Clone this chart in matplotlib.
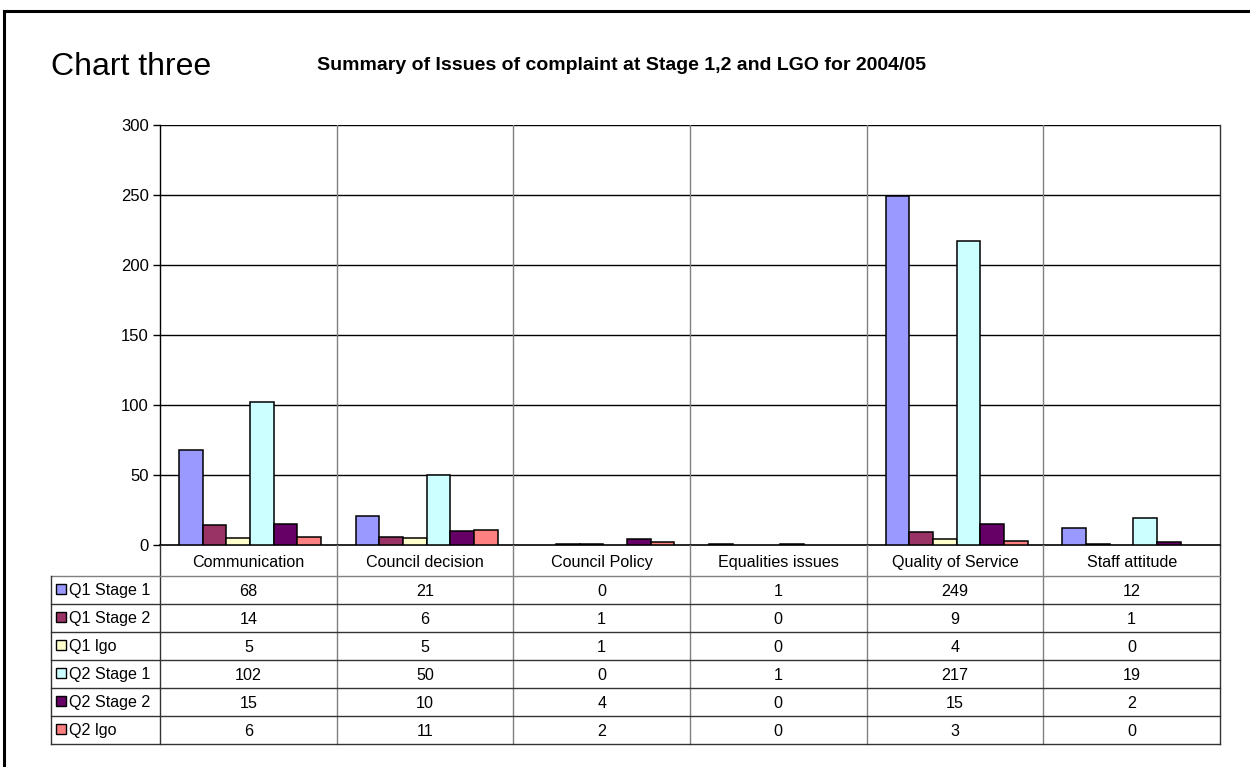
import matplotlib
matplotlib.use("Agg")
import matplotlib.pyplot as plt
from matplotlib.patches import Rectangle
from matplotlib.lines import Line2D
import numpy as np

plt.rcParams['font.family'] = ['Liberation Sans', 'DejaVu Sans']

categories = ["Communication", "Council decision", "Council Policy",
              "Equalities issues", "Quality of Service", "Staff attitude"]
series_names = ["Q1 Stage 1", "Q1 Stage 2", "Q1 lgo", "Q2 Stage 1", "Q2 Stage 2", "Q2 lgo"]
q1_stage1 = [68, 21, 0, 1, 249, 12]
q1_stage2 = [14, 6, 1, 0, 9, 1]
q1_lgo = [5, 5, 1, 0, 4, 0]
q2_stage1 = [102, 50, 0, 1, 217, 19]
q2_stage2 = [15, 10, 4, 0, 15, 2]
q2_lgo = [6, 11, 2, 0, 3, 0]
series_values = [q1_stage1, q1_stage2, q1_lgo, q2_stage1, q2_stage2, q2_lgo]
colors = ["#9999FF", "#993366", "#FFFFCC", "#CCFFFF", "#660066", "#FF8080"]
y_ticks = [0, 50, 100, 150, 200, 250, 300]

W, H = 1250, 767
fig = plt.figure(figsize=(W / 100, H / 100), dpi=100)

def fx(x):
    return x / W

def fy(y):
    return 1 - y / H

# outer border (top and left)
fig.add_artist(Line2D([fx(4), fx(4)], [fy(11), 0], color="black", lw=2.2))
fig.add_artist(Line2D([fx(4), 1], [fy(11), fy(11)], color="black", lw=2.2))

fig.text(fx(51), fy(67), "Chart three", fontsize=23, va="center", ha="left")
fig.text(fx(317), fy(65), "Summary of Issues of complaint at Stage 1,2 and LGO for 2004/05",
         fontsize=14, fontweight="bold", va="center", ha="left")

L, R, T, B = 160, 1220, 125, 545
ax = fig.add_axes([fx(L), fy(B), (R - L) / W, (B - T) / H])
n = len(categories)
ax.set_xlim(0, n)
ax.set_ylim(0, 300)
ax.set_yticks(y_ticks)
ax.tick_params(axis="y", direction="out", length=5, width=1, labelsize=12, pad=3, colors="black")
ax.set_xticks([])
for y in y_ticks[1:]:
    ax.axhline(y, color="black", lw=1, zorder=0)
for s in ["top", "right"]:
    ax.spines[s].set_visible(False)
ax.spines["left"].set_linewidth(1)
ax.spines["bottom"].set_linewidth(1.2)

bw = 0.134
xc = np.arange(n) + 0.5
for i, (vals, c) in enumerate(zip(series_values, colors)):
    offs = (i - 2.5) * bw + 0.01
    v = np.array(vals, dtype=float)
    ax.bar(xc + offs, v, width=bw, color=c, edgecolor="black",
           linewidth=[1.1 if a > 0 else 0 for a in v], zorder=3)

# data table axes
TB = 744
tab = fig.add_axes([fx(L), fy(TB), (R - L) / W, (TB - B) / H])
tab.set_xlim(0, n)
tab.set_ylim(TB, B)
tab.axis("off")

cw = (R - L) / n

def tx(px):
    return (px - L) / cw

grey = "#808080"
for k in range(1, n):
    ax.axvline(k, color=grey, lw=1, zorder=1)
for k in range(0, n + 1):
    tab.plot([k, k], [B, TB], color="#333333" if k in (0, n) else grey, lw=1, clip_on=False)
ax.plot([n, n], [0, 300], color="#333333", lw=1, clip_on=False)

row_h = 28
row0 = 576
for r in range(len(series_names) + 1):
    y = row0 + r * row_h
    tab.plot([tx(51), n], [y, y], color="#333333" if r > 0 else grey, lw=1, clip_on=False)
tab.plot([tx(51), tx(51)], [row0, TB], color="#333333", lw=1, clip_on=False)

fs = 11.6
for k, cat in enumerate(categories):
    tab.text(k + 0.5, (B + row0) / 2 + 2, cat, ha="center", va="center", fontsize=fs)

for r, (name, vals, c) in enumerate(zip(series_names, series_values, colors)):
    yc = row0 + r * row_h + row_h / 2 + 1
    tab.add_patch(Rectangle((tx(56), yc - 7), tx(66) - tx(56), 10, facecolor=c,
                            edgecolor="black", lw=1, clip_on=False))
    tab.text(tx(69), yc, name, ha="left", va="center", fontsize=fs)
    for k, v in enumerate(vals):
        tab.text(k + 0.5, yc, str(v), ha="center", va="center", fontsize=fs)

fig.savefig("out.png", dpi=100)
